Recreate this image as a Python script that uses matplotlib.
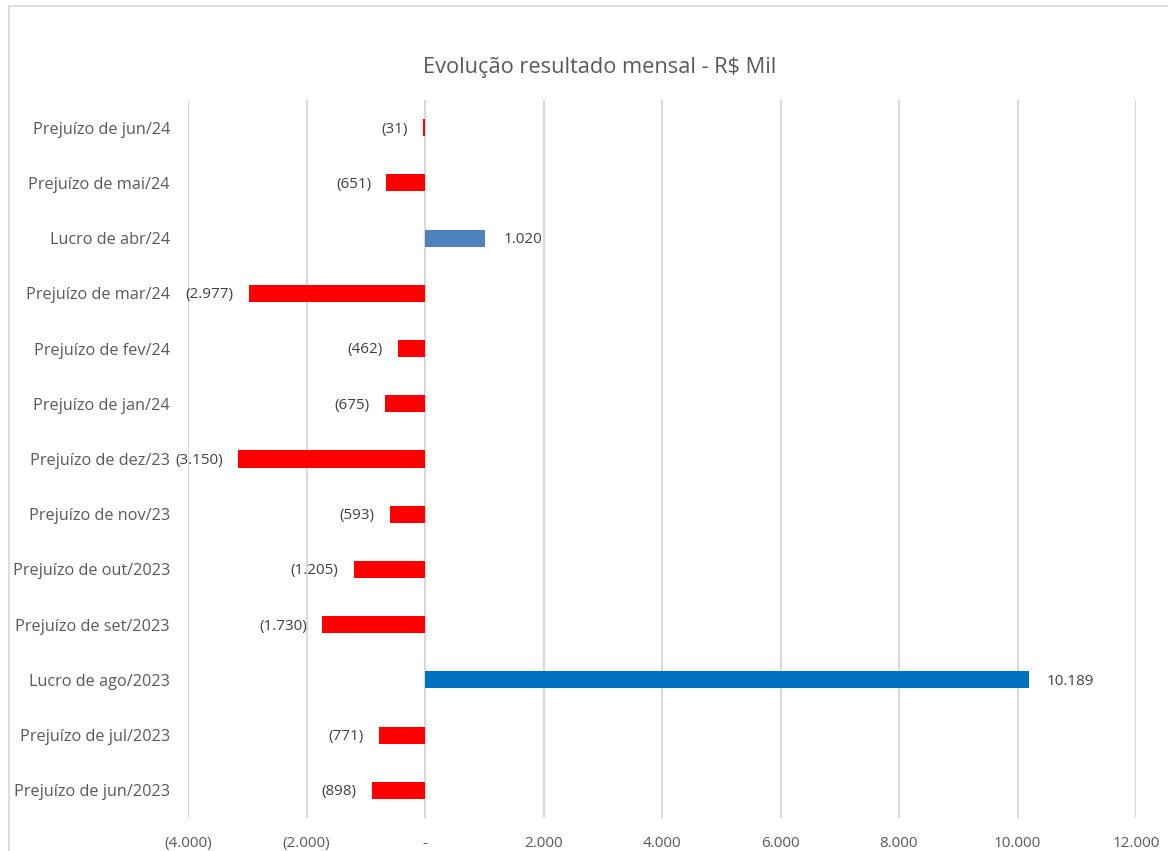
import matplotlib.pyplot as plt
from matplotlib.patches import Rectangle
from matplotlib.ticker import FuncFormatter

# dados (R$ mil), de baixo para cima
categorias = ['Prejuízo de jun/2023', 'Prejuízo de jul/2023', 'Lucro de ago/2023',
              'Prejuízo de set/2023', 'Prejuízo de out/2023', 'Prejuízo de nov/23',
              'Prejuízo de dez/23', 'Prejuízo de jan/24', 'Prejuízo de fev/24',
              'Prejuízo de mar/24', 'Lucro de abr/24', 'Prejuízo de mai/24',
              'Prejuízo de jun/24']
resultados = [-898, -771, 10189, -1730, -1205, -593, -3150, -675, -462, -2977, 1020, -651, -31]
cores = ['#FF0000', '#FF0000', '#0070C0', '#FF0000', '#FF0000', '#FF0000', '#FF0000',
         '#FF0000', '#FF0000', '#FF0000', '#4F81BD', '#FF0000', '#FF0000']
x_ticks = [-4000, -2000, 0, 2000, 4000, 6000, 8000, 10000, 12000]

plt.rcParams['font.family'] = ['Open Sans', 'DejaVu Sans']
texto = '#595959'


def fmt_br(v):
    """Formato brasileiro: ponto de milhar, negativos entre parênteses."""
    if v == 0:
        return '-'
    s = f'{abs(v):,.0f}'.replace(',', '.')
    return f'({s})' if v < 0 else s


fig = plt.figure(figsize=(11.68, 8.51), dpi=100)
ax = fig.add_axes([188 / 1168, 1 - 818 / 851, (1136 - 188) / 1168, (818 - 100) / 851])

# moldura do gráfico
fig.patches.append(Rectangle((9 / 1168, -0.05), 1.2, 1 - 6 / 851 + 0.05, transform=fig.transFigure,
                             fill=False, edgecolor='#D9D9D9', linewidth=1.2))

pos = list(range(len(categorias)))
ax.barh(pos, resultados, height=0.31, color=cores, zorder=3)

for y, v in zip(pos, resultados):
    if v < 0:
        ax.annotate(fmt_br(v), (v, y), xytext=(-11, -1), textcoords='offset points',
                    ha='right', va='center', fontsize=11, color='#404040', zorder=4)
    else:
        ax.annotate(fmt_br(v), (v, y), xytext=(13, -1), textcoords='offset points',
                    ha='left', va='center', fontsize=11, color='#404040', zorder=4)

ax.set_xlim(-4000, 12000)
ax.set_ylim(-0.5, len(categorias) - 0.5)
ax.set_xticks(x_ticks)
ax.xaxis.set_major_formatter(FuncFormatter(lambda v, p: fmt_br(v)))
ax.set_yticks(pos)
ax.set_yticklabels(categorias)
ax.tick_params(axis='x', length=0, pad=13, labelsize=11, labelcolor=texto)
ax.tick_params(axis='y', length=0, pad=13, labelsize=11.7, labelcolor=texto)
ax.grid(axis='x', color='#D9D9D9', linewidth=1.5, zorder=0)
for s in ax.spines.values():
    s.set_visible(False)

fig.text(600 / 1168, 1 - 67 / 851, 'Evolução resultado mensal - R$ Mil',
         ha='center', va='center', fontsize=15.7, color=texto)

fig.savefig('out.png', dpi=100)
